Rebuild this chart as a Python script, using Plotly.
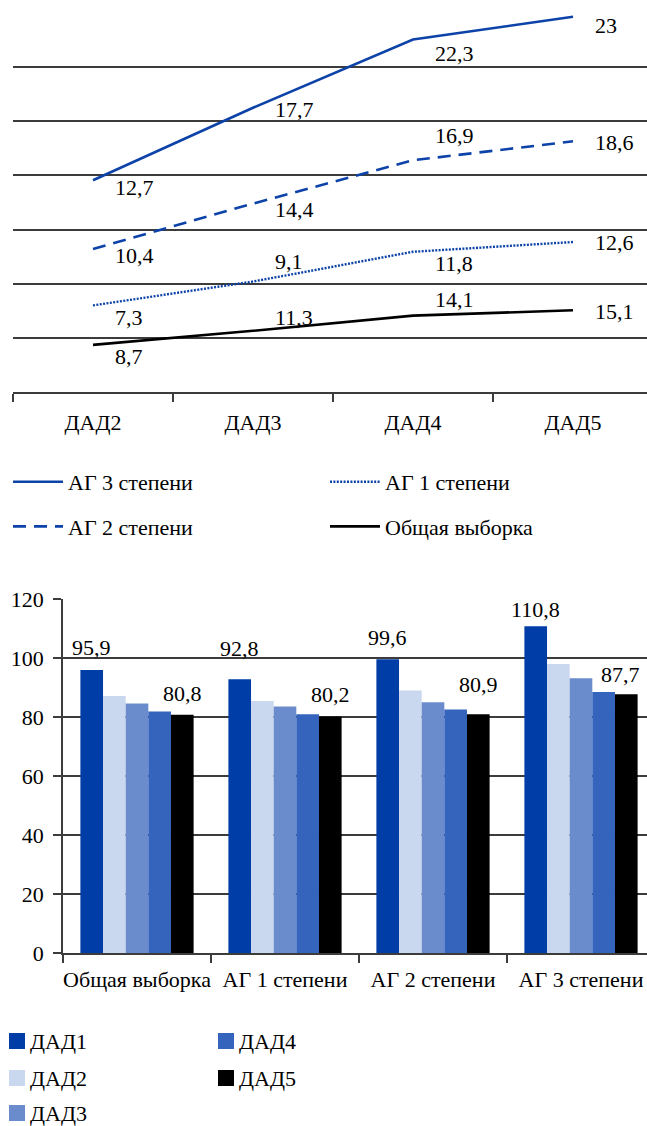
import numpy as np
import plotly.graph_objects as go

# ---------- data: upper chart (stacked lines) ----------
stages = ["ДАД2", "ДАД3", "ДАД4", "ДАД5"]
total_sample = [8.7, 11.3, 14.1, 15.1]   # Общая выборка
ag1 = [7.3, 9.1, 11.8, 12.6]             # АГ 1 степени
ag2 = [10.4, 14.4, 16.9, 18.6]           # АГ 2 степени
ag3 = [12.7, 17.7, 22.3, 23.0]           # АГ 3 степени

# ---------- data: lower chart (grouped bars) ----------
groups = ["Общая выборка", "АГ 1 степени", "АГ 2 степени", "АГ 3 степени"]
dad1 = [95.9, 92.8, 99.6, 110.8]
dad2 = [87.1, 85.4, 89.0, 98.0]
dad3 = [84.6, 83.6, 85.0, 93.1]
dad4 = [81.9, 80.9, 82.5, 88.5]
dad5 = [80.8, 80.2, 80.9, 87.7]

W, H = 647, 1126
FONT = "Liberation Serif"
FS = 22
BLUE = "#0D43A8"
GRID = "#3C3C3C"


def fmt(v):
    return f"{v:g}".replace(".", ",")


fig = go.Figure()

# stacked line series, drawn bottom to top
line_series = [
    ("Общая выборка", total_sample, dict(color="#000000", width=2.6), "legend2", 2),
    ("АГ 1 степени", ag1, dict(color=BLUE, width=2.4, dash="2px,1.4px"), "legend2", 1),
    ("АГ 2 степени", ag2, dict(color=BLUE, width=2.6, dash="13px,8px"), "legend", 2),
    ("АГ 3 степени", ag3, dict(color=BLUE, width=2.6), "legend", 1),
]
for name, vals, line, leg, rank in line_series:
    fig.add_trace(go.Scatter(
        x=stages, y=vals, name=name, mode="lines", line=line,
        stackgroup="dyn", fill="none", xaxis="x", yaxis="y",
        legend=leg, legendrank=rank, legendgroup=name,
    ))

# value labels placed to the right of each point (vertical nudge per label)
label_dy = {
    "Общая выборка": [-12, 13, 16, -1],
    "АГ 1 степени": [-12, 20, -12, 0],
    "АГ 2 степени": [-6, -6, 25, -1],
    "АГ 3 степени": [-7, -2, -14, -9],
}
cum = np.zeros(len(stages))
for name, vals, _, _, _ in line_series:
    cum = cum + np.array(vals)
    for i, (v, c) in enumerate(zip(vals, cum)):
        fig.add_annotation(
            x=stages[i], y=c, xref="x", yref="y", text=fmt(v), showarrow=False,
            xanchor="left", yanchor="middle", xshift=20, yshift=label_dy[name][i],
            font=dict(family=FONT, size=FS, color="#000"),
        )

# grouped bars
bar_series = [
    ("ДАД1", dad1, "#003DA6"),
    ("ДАД2", dad2, "#CAD8EF"),
    ("ДАД3", dad3, "#6A8CCC"),
    ("ДАД4", dad4, "#3464BC"),
    ("ДАД5", dad5, "#000000"),
]
for name, vals, color in bar_series:
    fig.add_trace(go.Bar(
        x=groups, y=vals, name=name, marker=dict(color=color, line=dict(width=0)),
        xaxis="x2", yaxis="y2", showlegend=False,
    ))

BARGAP = 0.235
bar_w = (1 - BARGAP) / len(bar_series)
# value labels above the first and last bar of each group
bar_label_dy = {"ДАД1": [23, 31, 22, 17], "ДАД5": [21, 22, 30, 20]}
bar_label_dx = {"ДАД1": [0, 0, 0, 0], "ДАД5": [0, 0, 0, -6]}
for k, (name, vals, _) in enumerate(bar_series):
    if name not in bar_label_dy:
        continue
    for i, v in enumerate(vals):
        fig.add_annotation(
            x=i + (k - (len(bar_series) - 1) / 2) * bar_w, y=v, xref="x2", yref="y2",
            text=fmt(v), showarrow=False, xanchor="center", yanchor="middle",
            xshift=bar_label_dx[name][i], yshift=bar_label_dy[name][i],
            font=dict(family=FONT, size=FS, color="#000"),
        )

# key for the bar colours: two columns of square swatches with captions
key_cols = [9, 218]
key_rows = [1041, 1078, 1113]
for k, (name, _, color) in enumerate(bar_series):
    col, row = (0, k) if k < 3 else (1, k - 3)
    x0, yc = key_cols[col], key_rows[row]
    fig.add_shape(
        type="rect", xref="paper", yref="paper",
        x0=x0 / W, x1=(x0 + 16) / W, y0=1 - (yc + 8) / H, y1=1 - (yc - 8) / H,
        fillcolor=color, line=dict(width=0),
    )
    fig.add_annotation(
        x=(x0 + 19) / W, y=1 - yc / H, xref="paper", yref="paper", text=name,
        showarrow=False, xanchor="left", yanchor="middle",
        font=dict(family=FONT, size=FS, color="#000"),
    )

legend_common = dict(
    orientation="v", bgcolor="rgba(0,0,0,0)", borderwidth=0, itemwidth=50,
    font=dict(family=FONT, size=FS, color="#000"), xanchor="left", yanchor="top",
    traceorder="grouped", tracegroupgap=13,
)

fig.update_layout(
    width=W, height=H, margin=dict(l=0, r=0, t=0, b=0, autoexpand=False),
    paper_bgcolor="white", plot_bgcolor="white",
    font=dict(family=FONT, size=FS, color="#000"),
    barmode="group", bargap=BARGAP, bargroupgap=0,
    hovermode=False,
    xaxis=dict(
        domain=[13 / W, 1], range=[-0.5, 3.5 - 6 / 160], type="category",
        showgrid=False, showline=True, linecolor=GRID, linewidth=1.5,
        ticks="outside", tickson="boundaries", ticklen=8, tickcolor=GRID, tickwidth=1.5,
        ticklabelstandoff=10, tickangle=0,
        tickfont=dict(family=FONT, size=FS, color="#000"),
        anchor="y", zeroline=False,
    ),
    yaxis=dict(
        domain=[1 - 392 / H, 1 - 13 / H], range=[0, 70], dtick=10,
        showgrid=True, gridcolor=GRID, gridwidth=1.5, showticklabels=False,
        showline=False, zeroline=False, ticks="", anchor="x",
    ),
    xaxis2=dict(
        domain=[63 / W, 1], range=[-0.5, 3.5 - 8 / 148], type="category",
        showgrid=False, showline=True, linecolor=GRID, linewidth=1.5,
        ticks="outside", tickson="boundaries", ticklen=8, tickcolor=GRID, tickwidth=1.5,
        ticklabelstandoff=6, tickangle=0,
        tickfont=dict(family=FONT, size=FS, color="#000"),
        anchor="y2", zeroline=False,
    ),
    yaxis2=dict(
        domain=[1 - 953 / H, 1 - 599 / H], range=[0, 120], dtick=20,
        showgrid=True, gridcolor=GRID, gridwidth=1.5,
        showline=True, linecolor=GRID, linewidth=1.5,
        ticks="outside", ticklen=8, tickcolor=GRID, tickwidth=1.5,
        ticklabelstandoff=5, tickfont=dict(family=FONT, size=FS, color="#000"),
        zeroline=False, anchor="x2",
    ),
    legend=dict(**legend_common, x=8 / W, y=1 - 461 / H),
    legend2=dict(**legend_common, x=325 / W, y=1 - 461 / H),
)

fig.write_html("out.html")
